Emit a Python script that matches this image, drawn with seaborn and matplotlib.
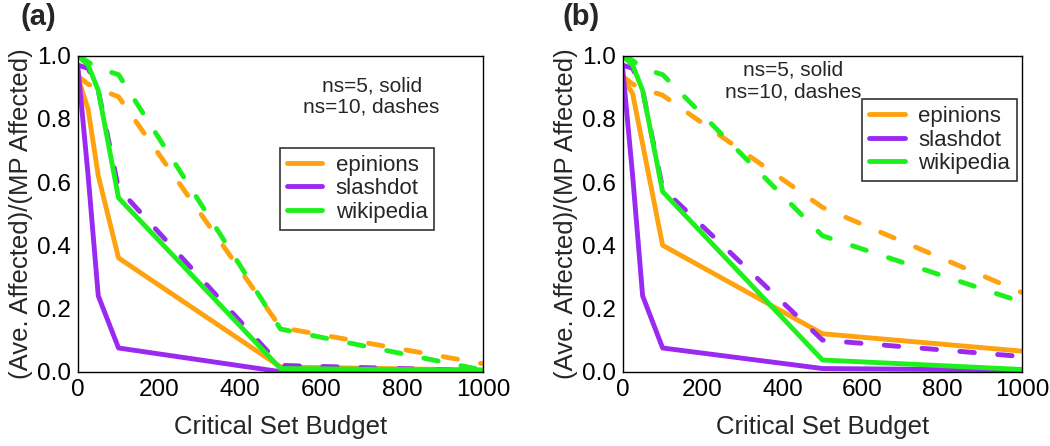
import numpy as np
import pandas as pd
import matplotlib
matplotlib.use('Agg')
import matplotlib.pyplot as plt
from matplotlib.lines import Line2D
import seaborn as sns

# Critical set budget values
budget = [0, 25, 50, 100, 500, 1000]
datasets = ["epinions", "slashdot", "wikipedia"]

# panel (a)
a_epinions_ns5 = [0.93, 0.83, 0.62, 0.36, 0.015, 0.005]
a_slashdot_ns5 = [0.96, 0.62, 0.24, 0.075, 0.0, 0.0]
a_wikipedia_ns5 = [1.0, 0.97, 0.89, 0.55, 0.01, 0.005]
a_epinions_ns10 = [0.935, 0.91, 0.895, 0.87, 0.14, 0.025]
a_slashdot_ns10 = [0.97, 0.96, 0.89, 0.58, 0.02, 0.003]
a_wikipedia_ns10 = [1.0, 0.98, 0.96, 0.94, 0.135, 0.005]

# panel (b)
b_epinions_ns5 = [0.93, 0.88, 0.72, 0.40, 0.12, 0.065]
b_slashdot_ns5 = [0.96, 0.62, 0.24, 0.075, 0.01, 0.005]
b_wikipedia_ns5 = [1.0, 0.97, 0.89, 0.57, 0.037, 0.007]
b_epinions_ns10 = [0.935, 0.91, 0.895, 0.875, 0.52, 0.25]
b_slashdot_ns10 = [0.97, 0.96, 0.89, 0.58, 0.10, 0.048]
b_wikipedia_ns10 = [1.0, 0.985, 0.96, 0.94, 0.43, 0.22]

colors = {"epinions": "#FFA210", "slashdot": "#9B2AF0", "wikipedia": "#1EF01E"}


def make_frame(series):
    rows = []
    for (name, ns), vals in series.items():
        for b, v in zip(budget, vals):
            rows.append({"budget": b, "value": v, "dataset": name, "ns": ns})
    return pd.DataFrame(rows)


df_a = make_frame({
    ("epinions", "ns=5"): a_epinions_ns5,
    ("slashdot", "ns=5"): a_slashdot_ns5,
    ("wikipedia", "ns=5"): a_wikipedia_ns5,
    ("epinions", "ns=10"): a_epinions_ns10,
    ("slashdot", "ns=10"): a_slashdot_ns10,
    ("wikipedia", "ns=10"): a_wikipedia_ns10,
})
df_b = make_frame({
    ("epinions", "ns=5"): b_epinions_ns5,
    ("slashdot", "ns=5"): b_slashdot_ns5,
    ("wikipedia", "ns=5"): b_wikipedia_ns5,
    ("epinions", "ns=10"): b_epinions_ns10,
    ("slashdot", "ns=10"): b_slashdot_ns10,
    ("wikipedia", "ns=10"): b_wikipedia_ns10,
})

sns.set_theme(style="white")
plt.rcParams['font.family'] = ['Liberation Sans', 'DejaVu Sans']

fig = plt.figure(figsize=(10.5, 4.46), dpi=100)
ax_a = fig.add_axes([0.0743, 0.1666, 0.3857, 0.7086])
ax_b = fig.add_axes([0.5930, 0.1666, 0.3806, 0.7086])

panels = [
    (ax_a, df_a, "(a)", 20, (0.725, 0.87), (0.499, 0.708)),
    (ax_b, df_b, "(b)", 563, (0.427, 0.92), (0.60, 0.862)),
]

lw = 3.5

for ax, df, tag, tag_x, note_xy, leg_xy in panels:
    sns.lineplot(data=df, x="budget", y="value", hue="dataset", style="ns",
                 hue_order=datasets, style_order=["ns=5", "ns=10"],
                 palette=colors, dashes={"ns=5": "", "ns=10": (3.0, 4.8)},
                 linewidth=lw, legend=False, ax=ax)
    for ln in ax.lines:
        ln.set_dash_capstyle('round')

    ax.set_xlim(0, 1000)
    ax.set_ylim(0, 1.0)
    ax.set_xticks([0, 200, 400, 600, 800, 1000])
    ax.set_yticks([0.0, 0.2, 0.4, 0.6, 0.8, 1.0])
    ax.set_yticklabels(["0.0", "0.2", "0.4", "0.6", "0.8", "1.0"])
    ax.tick_params(direction='in', length=4, width=1, labelsize=17.5,
                   colors='black', pad=5)
    ax.set_xlabel("Critical Set Budget", fontsize=18.5, labelpad=10)
    ax.set_ylabel("(Ave. Affected)/(MP Affected)", fontsize=18.5, labelpad=3)
    for sp in ax.spines.values():
        sp.set_color('black')
        sp.set_linewidth(1.0)

    ax.text(note_xy[0], note_xy[1], "ns=5, solid\nns=10, dashes",
            transform=ax.transAxes, ha='center', va='center', fontsize=15,
            linespacing=1.15)

    handles = [Line2D([0], [0], color=colors[d], lw=lw) for d in datasets]
    leg = ax.legend(handles, datasets, loc='upper left',
                    bbox_to_anchor=leg_xy, fontsize=16, frameon=True,
                    fancybox=False, edgecolor='black', handlelength=1.6,
                    borderpad=0.3, labelspacing=0.12, handletextpad=0.6,
                    borderaxespad=0.0)
    leg.get_frame().set_linewidth(1.2)

    fig.text(tag_x / 1050, 1 - 3 / 446, tag, fontsize=21,
             fontweight='bold', ha='left', va='top')

fig.savefig("out.png", dpi=100)
